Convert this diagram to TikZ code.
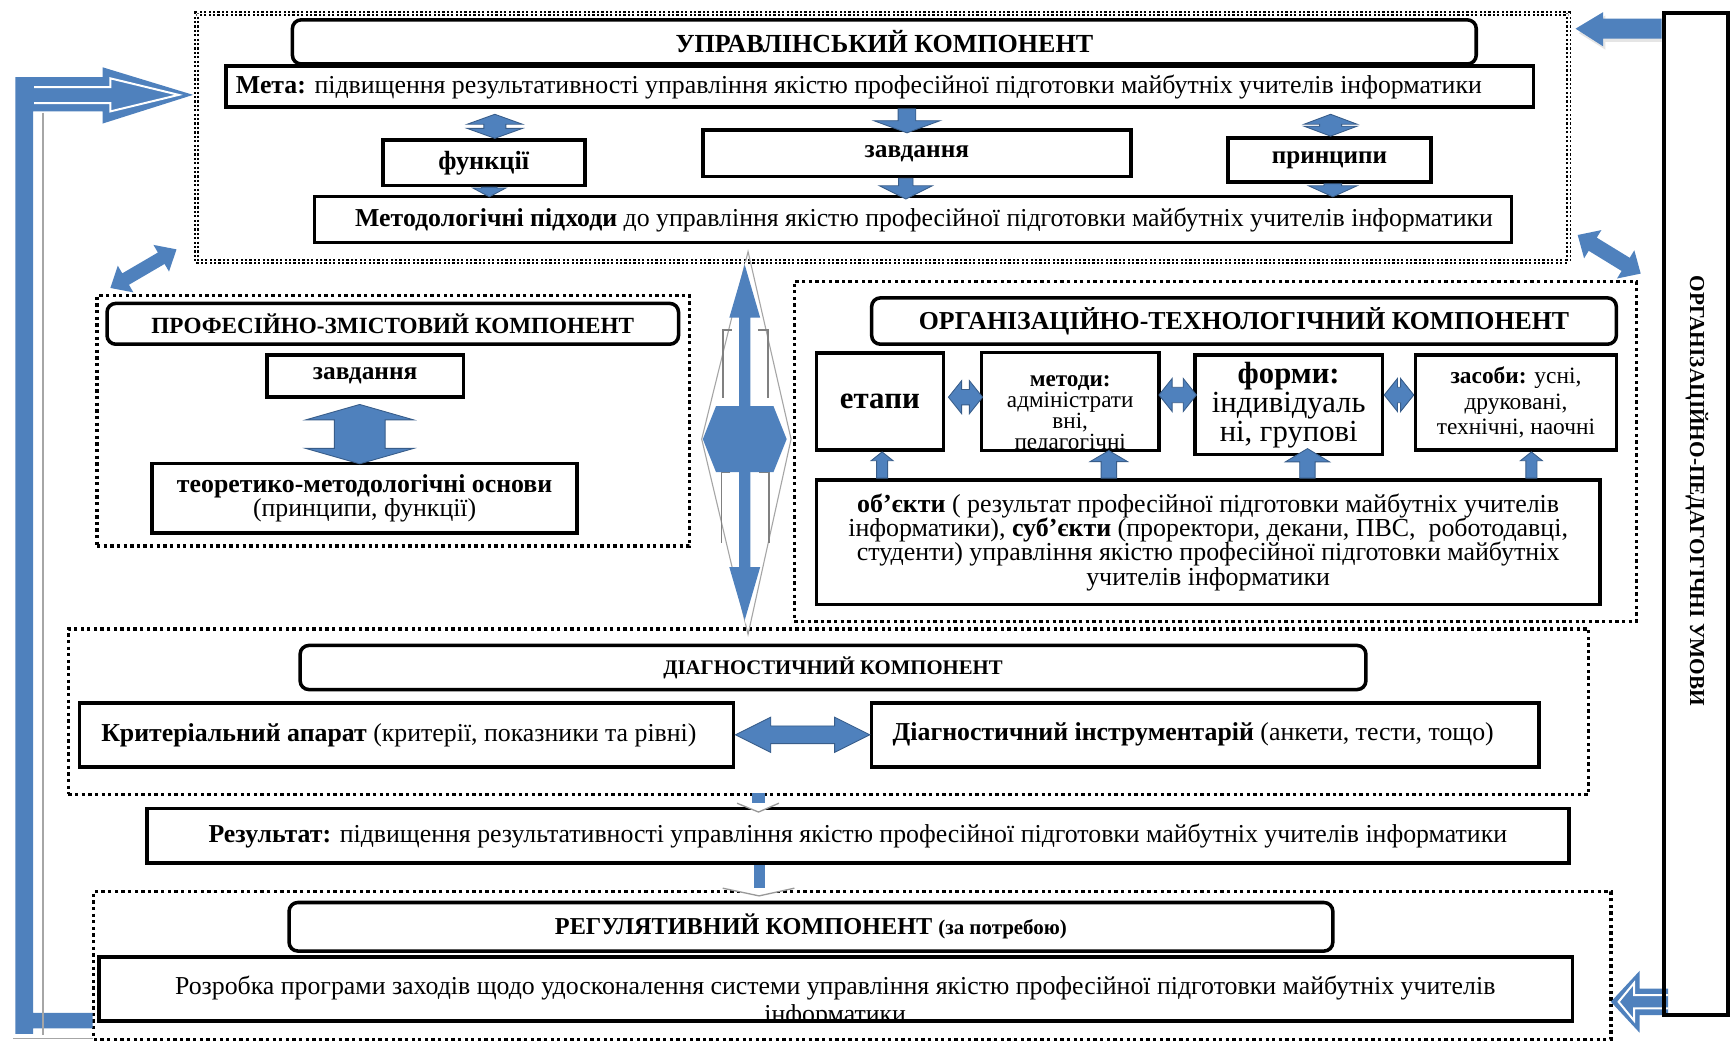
\documentclass[tikz,border=0pt]{standalone}
\usepackage{fontspec}
\setmainfont{Liberation Serif}
\usetikzlibrary{calc}
\definecolor{ablue}{RGB}{79,129,189}
\definecolor{adark}{RGB}{56,93,138}
\tikzset{
 dotbox/.style={draw=black, line width=1.5pt, dash pattern=on 1.5pt off 1.5pt},
 finedots/.style={draw=black, line width=0.85pt, double distance=0.6pt, dash pattern=on 1pt off 1pt},
 plainbox/.style={draw=black, line width=1.6pt, fill=white, inner sep=2pt},
 titlebox/.style={draw=black, line width=1.6pt, rounded corners=4pt, fill=white, inner sep=2pt},
 barrow/.style={fill=ablue, draw=adark, line width=0.4pt},
 shadowline/.style={draw=black!50, line width=0.8pt},
}
\newcommand\fs[2]{\fontsize{#1}{#2}\selectfont}
\newcommand\Rect[7]{\pgfmathsetmacro\rw{(#4-#2)*0.5}\pgfmathsetmacro\rh{(#5-#3)*0.5}%
 \pgfmathsetmacro\rx{(#2+#4)/2}\pgfmathsetmacro\ry{(#3+#5)/2}%
 \node[inner sep=0pt,#6,minimum width=\rw pt,minimum height=\rh pt] (#1) at (\rx,\ry) {#7};}
% block arrows between points (canvas pt sizes: shaft half, head half, head length)
\newcommand\VDbl[5]{\path[barrow] let \p1=(#1), \p2=(#2) in (\x1,\y1) -- (\x1+#4,\y1-#5) -- (\x1+#3,\y1-#5) -- (\x1+#3,\y2+#5) -- (\x1+#4,\y2+#5) -- (\x1,\y2) -- (\x1-#4,\y2+#5) -- (\x1-#3,\y2+#5) -- (\x1-#3,\y1-#5) -- (\x1-#4,\y1-#5) -- cycle;}
\newcommand\VDown[5]{\path[barrow] let \p1=(#1), \p2=(#2) in (\x1-#3,\y1) -- (\x1+#3,\y1) -- (\x1+#3,\y2+#5) -- (\x1+#4,\y2+#5) -- (\x1,\y2) -- (\x1-#4,\y2+#5) -- (\x1-#3,\y2+#5) -- cycle;}
\newcommand\VUp[5]{\path[barrow] let \p1=(#1), \p2=(#2) in (\x1-#3,\y1) -- (\x1+#3,\y1) -- (\x1+#3,\y2-#5) -- (\x1+#4,\y2-#5) -- (\x1,\y2) -- (\x1-#4,\y2-#5) -- (\x1-#3,\y2-#5) -- cycle;}
\newcommand\HDbl[5]{\path[barrow] let \p1=(#1), \p2=(#2) in (\x1,\y1) -- (\x1+#5,\y1+#4) -- (\x1+#5,\y1+#3) -- (\x2-#5,\y1+#3) -- (\x2-#5,\y1+#4) -- (\x2,\y1) -- (\x2-#5,\y1-#4) -- (\x2-#5,\y1-#3) -- (\x1+#5,\y1-#3) -- (\x1+#5,\y1-#4) -- cycle;}
\begin{document}
\begin{tikzpicture}[x=0.5pt,y=-0.5pt]
\useasboundingbox (0,0) rectangle (1568,945);
\fill[white] (0,0) rectangle (1568,945);

% ---------- group frames ----------
\Rect{gUpr}{178}{12}{1422}{237}{finedots}{}
\Rect{gProf}{88}{268}{625}{495}{dotbox}{}
\Rect{gOrg}{720}{255}{1483}{563}{dotbox}{}
\Rect{gDiag}{62}{570}{1440}{720}{dotbox}{}
\Rect{gReg}{85}{808}{1460}{942}{dotbox}{}

% ---------- management component ----------
\Rect{tUpr}{265}{18}{1338}{58}{titlebox, font=\fs{11.8}{13}\bfseries}{УПРАВЛІНСЬКИЙ КОМПОНЕНТ}
\Rect{meta}{205}{60}{1390}{97}{plainbox, font=\fs{11.7}{13}}{\textbf{Мета:} підвищення результативності управління якістю професійної підготовки майбутніх учителів інформатики\hspace*{19pt}}
\Rect{func}{347}{127}{530}{168}{plainbox, font=\fs{11.9}{13}\bfseries}{функції}
\Rect{zav}{637}{118}{1025}{160}{plainbox, font=\fs{11.5}{13}\bfseries}{завдання}
\Rect{princ}{1113}{125}{1297}{165}{plainbox, font=\fs{11.4}{13}\bfseries}{принципи}
\Rect{metod}{285}{178}{1370}{220}{plainbox, font=\fs{11.7}{13}}{\hspace*{10pt}\textbf{Методологічні підходи} до управління якістю професійної підготовки майбутніх учителів інформатики}

\VDbl{$(meta.south -| func.north)+(5pt,-2.5pt)$}{$(func.north)+(5pt,0pt)$}{5pt}{12.5pt}{4.5pt}
\VDown{$(func.south)+(2.5pt,0)$}{$(metod.north -| func.south)+(2.5pt,-1pt)$}{3.5pt}{7.5pt}{4pt}
\VDown{$(meta.south -| zav.north)+(-4.5pt,0)$}{$(zav.north)+(-4.5pt,-2pt)$}{4pt}{15pt}{5.5pt}
\VDown{$(zav.south)+(-5pt,0)$}{$(metod.north -| zav.south)+(-5pt,-2pt)$}{3.25pt}{12pt}{6pt}
\VDbl{$(meta.south -| princ.north)+(0.5pt,-2.5pt)$}{$(princ.north)+(0.5pt,0)$}{5pt}{12pt}{4.5pt}
\VDown{$(princ.south)+(1.5pt,0)$}{$(metod.north -| princ.south)+(1.5pt,-1pt)$}{4pt}{11pt}{5pt}

% ---------- professional-content component ----------
\Rect{tProf}{97}{275}{615}{312}{titlebox, font=\fs{10.5}{13}\bfseries}{ПРОФЕСІЙНО-ЗМІСТОВИЙ КОМПОНЕНТ}
\Rect{zav2}{242}{322}{420}{360}{plainbox, font=\fs{11.5}{13}\bfseries}{завдання}
\Rect{teor}{138}{420}{523}{483}{plainbox, align=center, font=\fs{11.7}{11}}{\textbf{теоретико-методологічні основи}\\(принципи, функції)}
\VDbl{$(zav2.south)+(-2.5pt,-2.5pt)$}{$(teor.north -| zav2.south)+(-2.5pt,-1pt)$}{11.5pt}{24.5pt}{7pt}

% ---------- organisational-technological component ----------
\Rect{tOrg}{790}{270}{1465}{312}{titlebox, font=\fs{11.7}{14}\bfseries}{ОРГАНІЗАЦІЙНО-ТЕХНОЛОГІЧНИЙ КОМПОНЕНТ}
\Rect{etap}{740}{320}{855}{408}{plainbox, font=\fs{14}{16}\bfseries}{етапи}
\Rect{met}{890}{320}{1050}{408}{fill=white}{}
\begin{scope}
\clip (met.south west) rectangle (met.north east);
\node[align=center, font=\fs{10.5}{9.4}, inner sep=0pt] (metT) at (970,376) {\textbf{методи:}\\адміністрати\\вні,\\педагогічні};
\end{scope}
\draw[line width=1.6pt] (met.south west) rectangle (met.north east);
\Rect{form}{1083}{322}{1253}{412}{plainbox, align=center, font=\fs{13.9}{12}}{\textbf{форми:}\\індивідуаль\\ні, групові}
\Rect{zas}{1283}{322}{1465}{408}{plainbox, align=center, font=\fs{10.6}{11.5}}{\textbf{засоби:} усні,\\друковані,\\технічні, наочні}
\Rect{obj}{740}{435}{1450}{548}{plainbox, align=center, font=\fs{11.75}{11}}{\textbf{об’єкти} ( результат професійної підготовки майбутніх учителів\\інформатики), \textbf{суб’єкти} (проректори, декани, ПВС,\ \ роботодавці,\\студенти) управління якістю професійної підготовки майбутніх\\учителів інформатики}

\HDbl{$(etap.east)+(1.5pt,2pt)$}{$(met.west |- etap.east)+(0.5pt,2pt)$}{3.5pt}{7.5pt}{6pt}
\HDbl{$(met.east)+(0,3pt)$}{$(form.west |- met.east)+(1.5pt,3pt)$}{3.5pt}{7.5pt}{6pt}
\HDbl{$(form.east)+(0,4.5pt)$}{$(zas.west |- form.east)+(0,4.5pt)$}{3.5pt}{7.5pt}{6pt}
\VUp{$(obj.north -| etap.south)+(1pt,0)$}{$(etap.south)+(1pt,0)$}{2.5pt}{5pt}{4pt}
\VUp{$(obj.north -| met.south)+(17.5pt,0)$}{$(met.south)+(17.5pt,0pt)$}{3.5pt}{8.5pt}{5pt}
\VUp{$(obj.north -| form.south)+(8.5pt,0)$}{$(form.south)+(8.5pt,3.5pt)$}{3.5pt}{10pt}{6pt}
\VUp{$(obj.north -| zas.south)+(7pt,0)$}{$(zas.south)+(7pt,0)$}{2.5pt}{5pt}{4pt}

% ---------- central double arrow ----------
\draw[black!35, line width=0.5pt] (678,228) -- (717,398) -- (678,575) -- (636,398) -- cycle;
\fill[white] (676,236) -- (711,398) -- (676,566) -- (641,398) -- cycle;
\draw[shadowline] (663,299) -- (655,299) -- (655,361);
\draw[shadowline] (687,299) -- (696,299) -- (696,361);
\draw[shadowline] (662,428) -- (654,428) -- (654,492);
\draw[shadowline] (688,428) -- (697,428) -- (697,492);
\fill[ablue] (675,240) -- (689,288) -- (680,288) -- (680,514) -- (689,514) -- (675,562) -- (661,514) -- (670,514) -- (670,288) -- (661,288) -- cycle;
\fill[ablue] (637,398) -- (649,368) -- (701,368) -- (713,398) -- (701,428) -- (649,428) -- cycle;

% ---------- diagnostic component ----------
\Rect{tDiag}{272}{585}{1238}{625}{titlebox, font=\fs{9.4}{11}\bfseries}{ДІАГНОСТИЧНИЙ КОМПОНЕНТ}
\Rect{krit}{72}{637}{665}{695}{plainbox, font=\fs{11.7}{13}}{\textbf{Критеріальний апарат} (критерії, показники та рівні)\hspace*{7pt}}
\Rect{diagI}{790}{637}{1395}{695}{plainbox, font=\fs{11.7}{13}}{\textbf{Діагностичний інструментарій} (анкети, тести, тощо)\hspace*{11pt}}
\HDbl{krit.east}{diagI.west}{4pt}{8pt}{16pt}

% ---------- result ----------
\Rect{res}{133}{733}{1422}{782}{plainbox, font=\fs{11.7}{13}}{\textbf{Результат:} підвищення результативності управління якістю професійної підготовки майбутніх учителів інформатики}
\fill[ablue] (682,719) rectangle (693,728);
\draw[black!40, line width=0.6pt, fill=white] (668,728) -- (687.5,736) -- (706,728);
\fill[ablue] (683,784) rectangle (693,806);
\draw[black!40, line width=0.6pt, fill=white] (655,805) -- (688,812) -- (720,805);

% ---------- regulative component ----------
\Rect{tReg}{262}{818}{1208}{862}{titlebox, font=\fs{11}{12}\bfseries}{РЕГУЛЯТИВНИЙ КОМПОНЕНТ {\fs{9.5}{11}(за потребою)}}
\Rect{rozr}{90}{868}{1425}{925}{fill=white}{}
\begin{scope}
\clip (rozr.south west) rectangle (rozr.north east);
\node[align=center, font=\fs{11.7}{12.5}, inner sep=0pt] (rozrT) at (757,908) {Розробка програми заходів щодо удосконалення системи управління якістю професійної підготовки майбутніх учителів\\інформатики};
\end{scope}
\draw[line width=1.6pt] (rozr.south west) rectangle (rozr.north east);

% ---------- left feedback L-arrow ----------
\fill[ablue] (14,70) -- (93,70) -- (93,61) -- (175,86) -- (93,112) -- (93,101) -- (30,101) -- (30,918) -- (84,918) -- (84,932) -- (30,932) -- (30,937) -- (14,937) -- cycle;
\draw[white, line width=0.9pt] (31,79) -- (100,79) -- (100,71) -- (162,86) -- (100,101) -- (100,93.5) -- (31,93.5);
\draw[black!35, line width=0.6pt] (39,102) -- (39,938);
\draw[black!35, line width=0.6pt] (12,941) -- (84,941);

% ---------- diagonal arrows ----------
\begin{scope}[shift={(130,243.5)}, rotate=30.3]
\fill[ablue] (-34.7,0) -- (-18.7,-14) -- (-18.7,-6) -- (18.7,-6) -- (18.7,-14) -- (34.7,0) -- (18.7,14) -- (18.7,6) -- (-18.7,6) -- (-18.7,14) -- cycle;
\end{scope}
\begin{scope}[shift={(1458.5,230.5)}, rotate=-31.5]
\fill[ablue] (-33.5,0) -- (-17.5,-15) -- (-17.5,-7) -- (17.5,-7) -- (17.5,-15) -- (33.5,0) -- (17.5,15) -- (17.5,7) -- (-17.5,7) -- (-17.5,15) -- cycle;
\end{scope}

% ---------- right column ----------
\fill[black!10] (1506,20) -- (1455,20) -- (1455,14) -- (1431,30) -- (1455,45) -- (1455,38) -- (1506,38) -- cycle;
\fill[ablue] (1506,17) -- (1453,17) -- (1453,11) -- (1428,26) -- (1453,42) -- (1453,35) -- (1506,35) -- cycle;
\fill[ablue] (1512,896) -- (1486,896) -- (1486,880) -- (1460,908) -- (1486,936) -- (1486,920) -- (1512,920) -- cycle;
\draw[white, line width=0.9pt] (1512,902) -- (1481,902) -- (1481,891) -- (1467,908) -- (1481,925) -- (1481,914) -- (1512,914);
\Rect{col}{1508}{12}{1566}{920}{draw=black, line width=2pt}{}
\node[rotate=-90, font=\fs{9.65}{12}\bfseries, inner sep=0pt] (colT) at (1538,445) {ОРГАНІЗАЦІЙНО-ПЕДАГОГІЧНІ УМОВИ};
\end{tikzpicture}
\end{document}
